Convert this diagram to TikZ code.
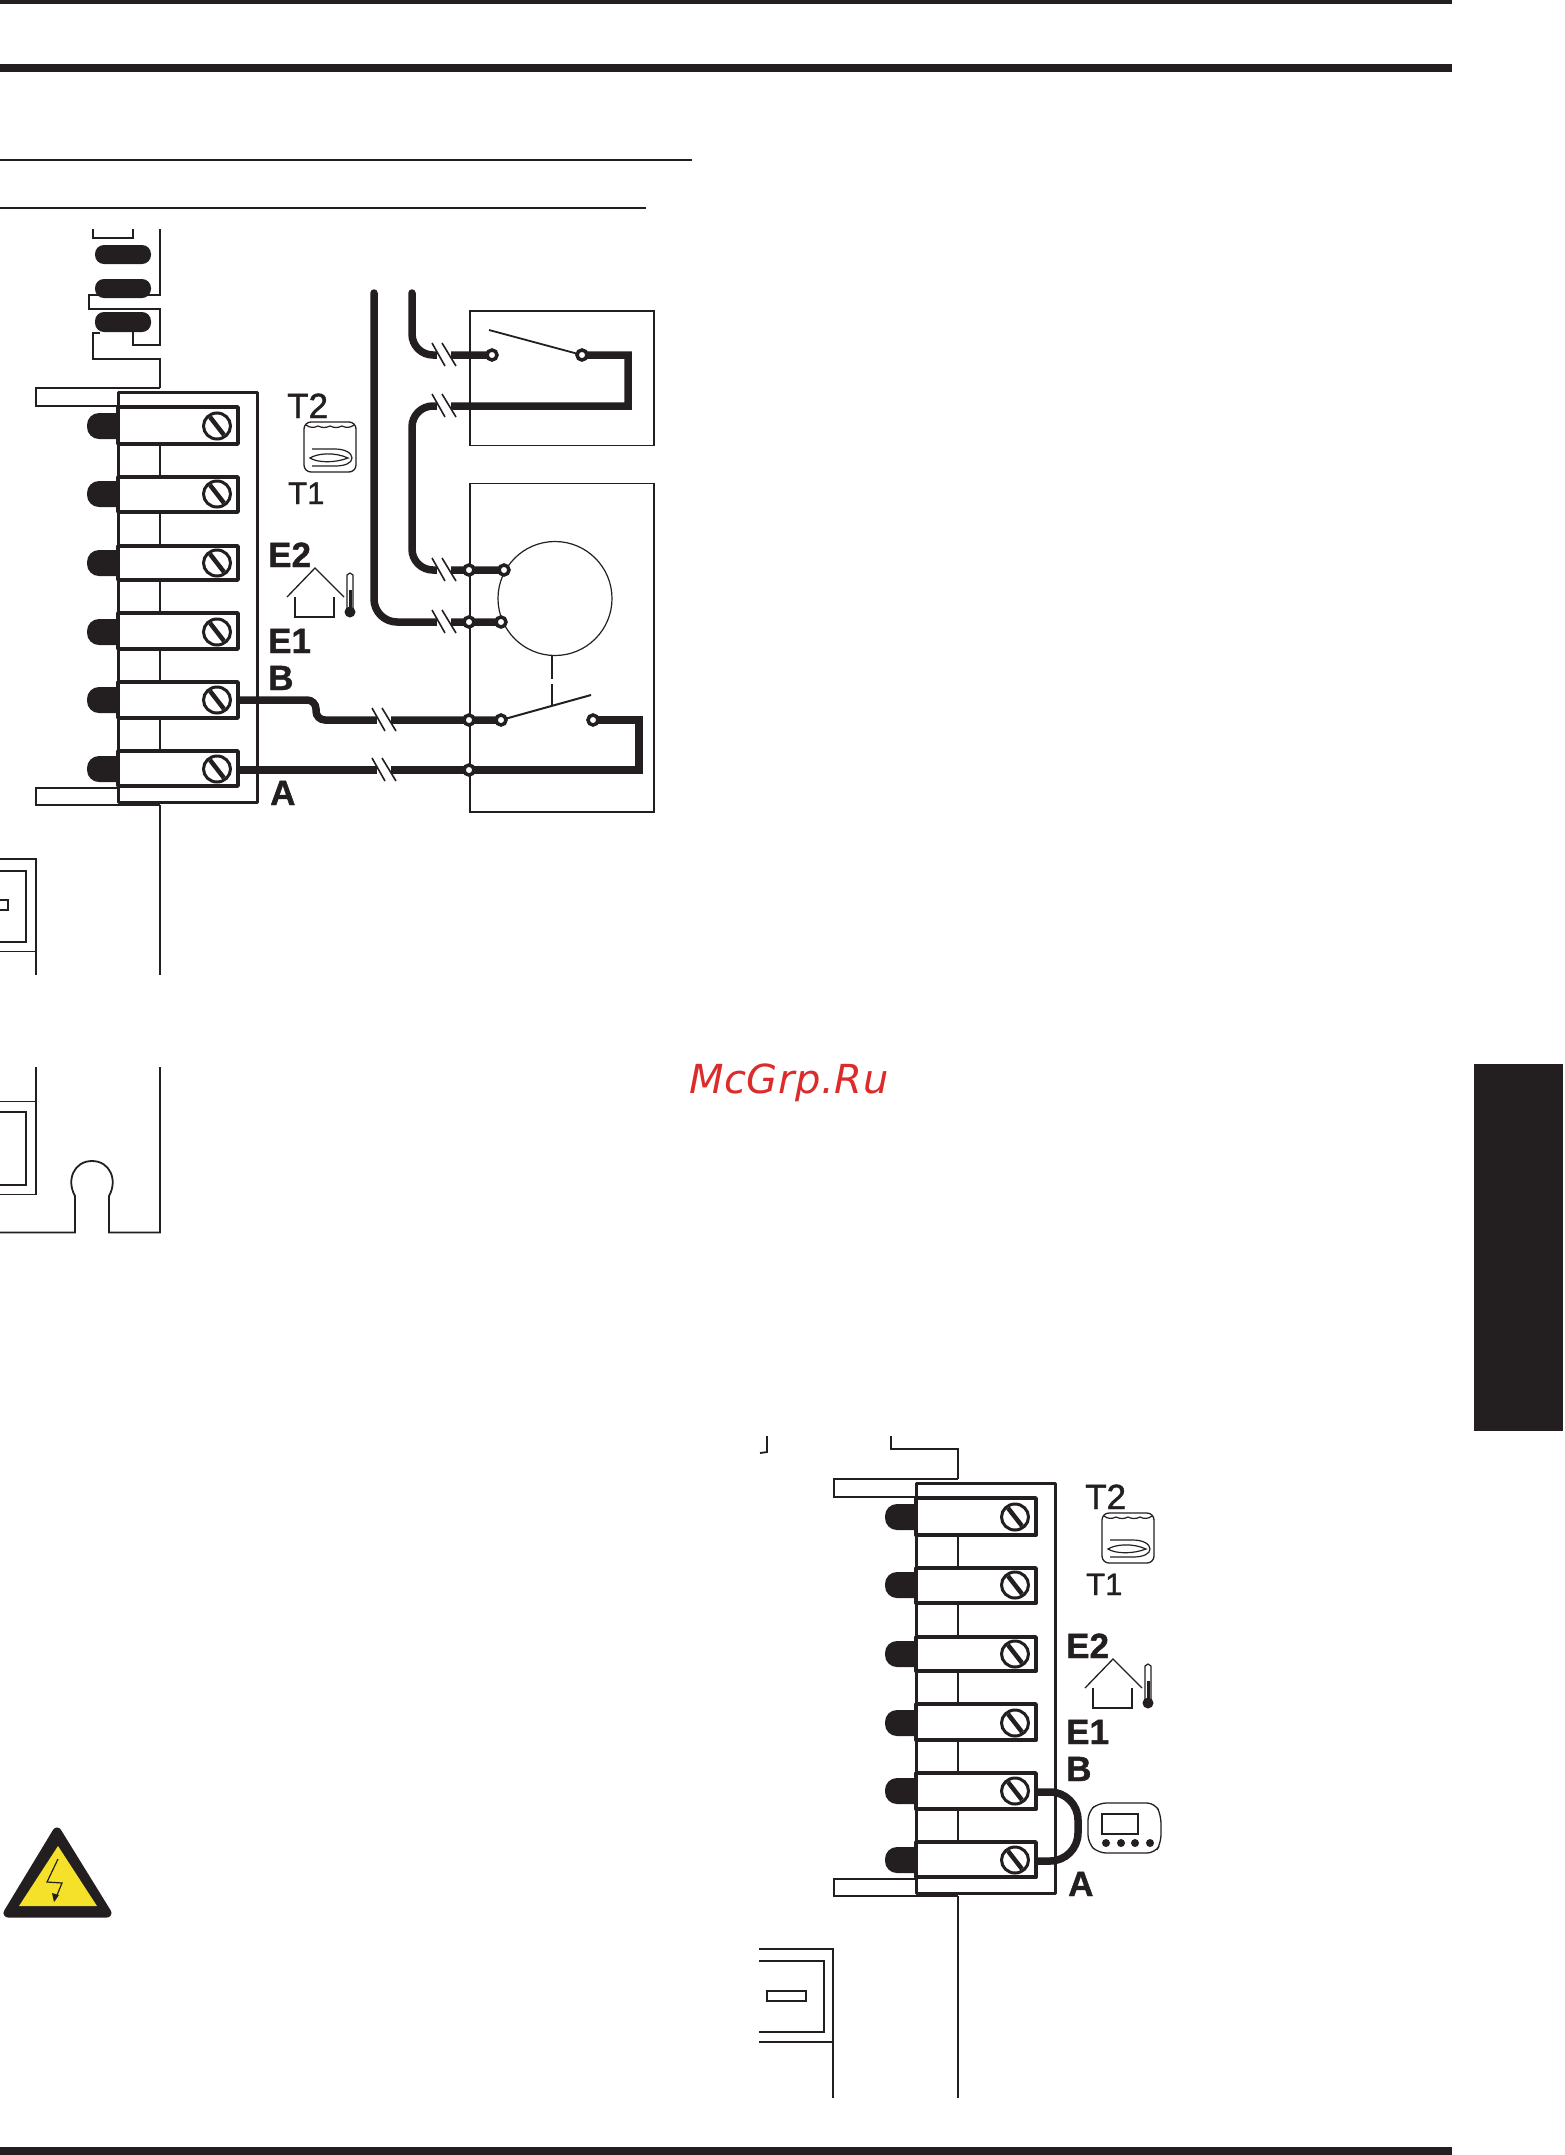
\documentclass[tikz,border=0pt]{standalone}
\usepackage{fontspec}
\setmainfont{Liberation Sans}
\newfontfamily\wmfont{DejaVu Sans}[LetterSpace=1.5]
\newfontfamily\heavyfont{Liberation Sans Bold}[FakeBold=1.2]
\newfontfamily\medfont{Liberation Sans}[FakeBold=1.2]
\definecolor{ink}{HTML}{231F20}
\definecolor{wmred}{HTML}{DC2B2B}
\definecolor{warnyellow}{HTML}{F5E02A}
\tikzset{
  x=1pt,y=-1pt,
  wire/.style={draw=ink,line width=7.5pt,line join=miter},
  thinline/.style={draw=ink,line width=1.3pt},
  frameline/.style={draw=ink,line width=1.8pt},
  blockline/.style={draw=ink,line width=3pt,line join=round},
  termbox/.style={draw=ink,fill=white,line width=3.8pt,line join=round},
  blob/.style={fill=ink,rounded corners=12pt},
  pill/.style={fill=ink,rounded corners=9pt},
  lab/.style={inner sep=0pt,anchor=base west,text=ink},
  ring/.style={circle,draw=ink,fill=white,line width=3.5pt,minimum size=10pt,inner sep=0pt},
  ticks/.style={draw=ink,line width=1.6pt},
}
\newcommand{\screwat}[1]{%
  \draw[ink,fill=white,line width=3pt] (217,#1) ellipse (13.5 and 13);
  \draw[ink,line width=4.5pt] (210,#1-9) -- (224,#1+9);
}
\newcommand{\termat}[3]{% top, bottom, screw y
  \fill[blob] (87,#3-13) rectangle (130,#3+13);
  \draw[termbox] (118,#1) rectangle (238,#2);
  \screwat{#3}
}
\newcommand{\labelset}[1]{%
  \node[lab,font=\medfont\fontsize{35}{35}\selectfont] (#1T2) at (287,418) {T2};
  \node[lab,font=\medfont\fontsize{31}{31}\selectfont] (#1T1) at (288,504) {T1};
  \node[lab,font=\heavyfont\fontsize{35}{35}\selectfont] (#1E2) at (268,567) {E2};
  \node[lab,font=\heavyfont\fontsize{35}{35}\selectfont] (#1E1) at (268,653) {E1};
  \node[lab,font=\heavyfont\fontsize{35}{35}\selectfont] (#1B) at (268,690) {B};
  \node[lab,font=\heavyfont\fontsize{35}{35}\selectfont] (#1A) at (270,805) {A};
}
\newcommand{\blockcommon}{%
  % terminal strip frame and feed lines
  \draw[frameline] (160,388) -- (36,388) -- (36,406) -- (118,406);
  \draw[frameline] (118,788) -- (36,788) -- (36,805) -- (160,805);
  \draw[blockline] (118,392) rectangle (257,802);
  \draw[frameline] (118,406) -- (160,406);
  \foreach \a/\b in {444/477,512/546,580/613,649/682,718/751}
    \draw[frameline] (160,\a) -- (160,\b);
  \termat{407}{444}{426}
  \termat{477}{512}{494}
  \termat{546}{580}{563}
  \termat{613}{649}{632}
  \termat{682}{718}{700}
  \termat{751}{786}{769}
  % tank icon
  \draw[ink,line width=1.3pt,rounded corners=7pt] (304,422) rectangle (356,472);
  \draw[ink,line width=1.2pt] (306,425) .. controls (310,428) and (314,428) .. (318,426)
     .. controls (322,428) and (326,428) .. (330,426)
     .. controls (334,428) and (338,428) .. (342,426)
     .. controls (346,428) and (350,428) .. (354,425);
  \draw[ink,line width=1.2pt] (312,449) -- (335,449) .. controls (345,449) and (352,453) .. (352,458)
     .. controls (352,463) and (345,466) .. (335,466) -- (312,466);
  \draw[ink,line width=1.2pt] (310,458) .. controls (318,453) and (335,452) .. (348,458)
     .. controls (335,463) and (318,463) .. (310,458) -- cycle;
  % house icon
  \draw[ink,line width=1.3pt] (287,597) -- (315,568) -- (344,597);
  \draw[ink,line width=1.3pt] (295,597) -- (295,617) -- (334,617) -- (334,597);
  \draw[ink,line width=1.2pt] (347,608) -- (347,575) -- (350,573) -- (353,575) -- (353,608);
  \fill[ink] (350,612) circle (5.5);
  \fill[ink] (348.5,590) rectangle (351.5,610);
}
\newcommand{\wiretick}[2]{%
  \fill[white] (#1-7,#2-5) -- (#1+7,#2-5) -- (#1+7,#2+5) -- (#1-7,#2+5) -- cycle;
  \draw[ticks] (#1-12,#2-12) -- (#1+1,#2+11);
  \draw[ticks] (#1-2,#2-12) -- (#1+12,#2+11);
}
\begin{document}
\begin{tikzpicture}
\useasboundingbox (0,0) rectangle (1564,2155);
% page rules
\fill[ink] (0,0) rectangle (1452,4);
\fill[ink] (0,64) rectangle (1452,72);
\fill[ink] (0,159) rectangle (692,161);
\fill[ink] (0,207) rectangle (646,209);
\fill[ink] (1474,1064) rectangle (1563,1431);
\fill[ink] (0,2147) rectangle (1452,2155);

% ---- left diagram: upper coil fragment
\draw[frameline] (93,229) -- (93,238) -- (133,238) -- (133,229);
\draw[frameline] (160,229) -- (160,295) -- (89,295) -- (89,309) -- (160,309) -- (160,345) -- (133,345) -- (133,330);
\draw[frameline] (100,333) -- (93,333) -- (93,359) -- (160,359) -- (160,388);
\fill[pill] (95,245) rectangle (151,264);
\fill[pill] (95,279) rectangle (151,298);
\fill[pill] (95,312) rectangle (151,332);

\blockcommon
\labelset{L}

% lower left frames
\draw[frameline] (160,805) -- (160,975);
\draw[frameline] (0,859) -- (36,859) -- (36,975);
\draw[frameline] (0,951.5) -- (36,951.5);
\draw[ink,line width=2.4pt] (0,871) -- (26,871) -- (26,942) -- (0,942);
\draw[ink,line width=2.2pt] (0,900) -- (8,900) -- (8,910) -- (0,910);
\draw[frameline] (36,1067) -- (36,1194.5) -- (0,1194.5);
\draw[frameline] (0,1101.5) -- (36,1101.5);
\draw[ink,line width=2.4pt] (0,1112) -- (26,1112) -- (26,1185) -- (0,1185);
\draw[frameline] (160,1067) -- (160,1232.5) -- (109,1232.5) -- (109,1196)
  .. controls (118,1180) and (110,1161) .. (92,1161)
  .. controls (74,1161) and (66,1180) .. (75,1196) -- (75,1232.5) -- (0,1232.5);

% ---- wiring boxes
\draw[thinline] (470,311) rectangle (654,445.5);
\draw[thinline] (470,483.5) rectangle (654,812);
\node[draw=ink,line width=1.2pt,circle,minimum size=114pt,inner sep=0pt] (motor) at (555,598.5) {};

\coordinate (swAa) at (492,355);
\coordinate (swAb) at (582,355);
\coordinate (swAtip) at (489,330);
\coordinate (mA) at (504,570);
\coordinate (mB) at (501,622);
\coordinate (swBa) at (501,720);
\coordinate (swBb) at (593,720);
\coordinate (swBtip) at (591,695);
\coordinate (nodeA) at (469,570);
\coordinate (nodeB) at (469,622);
\coordinate (nodeC) at (469,720);
\coordinate (nodeD) at (469,770);
\coordinate (termB) at (238,700);
\coordinate (termA) at (238,770);

\draw[wire,line cap=round,rounded corners=23pt] (374,293) -- (374,622) -- (mB);
\draw[wire,line cap=round,rounded corners=21pt] (412,293) -- (412,355) -- (swAa);
\draw[wire] (swAb) -- (628,355) -- (628,406) [rounded corners=21pt] -- (412,406) -- (412,570) -- (mA);
\draw[wire,rounded corners=9pt] (termB) -- (316,700) -- (316,720) -- (swBa);
\draw[wire] (swBb) -- (639,720) -- (639,770) -- (termA);

\wiretick{444}{355}
\wiretick{444}{406}
\wiretick{444}{570}
\wiretick{444}{622}
\wiretick{384}{720}
\wiretick{384}{770}

\draw[ink,line width=1.8pt] (swAtip) -- (swAb);
\draw[ink,line width=2pt] (swBa) -- (swBtip);
\draw[ink,line width=1.5pt] (motor.south) ++(-3,0) coordinate (dashtop) -- (552,679);
\draw[ink,line width=1.5pt] (552,684) -- (552,706);

\node[ring] (rA) at (swAa) {};
\node[ring] (rB) at (swAb) {};
\node[ring] (rC) at (mA) {};
\node[ring] (rD) at (mB) {};
\node[ring] (rE) at (nodeA) {};
\node[ring] (rF) at (nodeB) {};
\node[ring] (rG) at (nodeC) {};
\node[ring] (rH) at (nodeD) {};
\node[ring] (rI) at (swBa) {};
\node[ring] (rJ) at (swBb) {};

% ---- right diagram
\begin{scope}[shift={(798,1091)}]
  \blockcommon
  \labelset{R}
\end{scope}
\draw[frameline] (767,1436) -- (767,1452) -- (760,1453);
\draw[frameline] (891,1436) -- (891,1449) -- (958,1449) -- (958,1479);
\draw[frameline] (958,1896) -- (958,2098);
\draw[frameline] (759,1949) -- (833,1949) -- (833,2098);
\draw[frameline] (759,2042) -- (833,2042);
\draw[ink,line width=2.4pt] (759,1961) -- (824,1961) -- (824,2032) -- (759,2032);
\draw[ink,line width=2.4pt] (767,1991) rectangle (806,2001);
\coordinate (jumpB) at (1036,1792);
\coordinate (jumpA) at (1036,1861);
\draw[wire,rounded corners=28pt] (jumpB) -- (1078,1792) -- (1078,1861) -- (jumpA);
% room thermostat icon
\draw[ink,line width=1.3pt,rounded corners=8pt] (1120,1803) -- (1155,1803) -- (1161,1815) -- (1161,1843) -- (1155,1853) -- (1098,1853) -- (1088,1843) -- (1088,1812) -- (1098,1803) -- cycle;
\draw[ink,line width=1.6pt] (1102,1814) rectangle (1138,1834);
\foreach \dx in {1106,1121,1135,1150} \fill[ink] (\dx,1843) circle (4);

% warning triangle
\draw[fill=ink,draw=ink,line width=9pt,line join=round] (57,1832) -- (8,1913) -- (107,1913) -- cycle;
\fill[warnyellow] (58,1846) -- (19,1906) -- (97,1906) -- cycle;
\draw[ink,line width=1.2pt] (58,1859) -- (47,1882) -- (62,1883) -- (55,1900);
\fill[ink] (52,1893) -- (59,1895) -- (54,1902) -- cycle;

% watermark
\node[lab,text=wmred,font=\wmfont\itshape\fontsize{40}{40}\selectfont] (wm) at (689,1093) {McGrp.Ru};
\end{tikzpicture}
\end{document}
